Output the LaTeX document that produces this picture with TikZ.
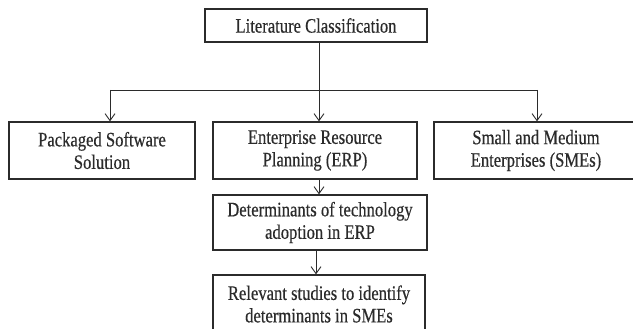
\documentclass[tikz,border=0pt]{standalone}
\usepackage{fontspec}
\setmainfont{Liberation Serif}[FakeStretch=0.81,FakeBold=0.4]
\usetikzlibrary{arrows.meta}
\definecolor{ink}{HTML}{2B2B2B}
\begin{document}
\begin{tikzpicture}[x=1pt,y=1pt,
  box/.style={draw=ink, line width=1.3pt, fill=white, text=ink, align=center,
    inner sep=0pt, font=\fontsize{20.5}{22.5}\selectfont},
  link/.style={draw=ink, line width=0.9pt},
  arr/.style={link, -{Straight Barb[length=7pt,width=10pt,line width=0.9pt]}}]
\useasboundingbox (0,0) rectangle (633,-329);

% boxes
\node[box, minimum width=222pt, minimum height=33pt] (lit) at (316,-25.5) {Literature Classification};
\node[box, minimum width=186pt, minimum height=57pt] (pss) at (102,-150.5) {Packaged Software\\Solution};
\node[box, minimum width=204pt, minimum height=57pt] (erp) at (315,-150.5) {Enterprise Resource\\Planning (ERP)};
\node[box, minimum width=204pt, minimum height=57pt] (sme) at (536,-150.5) {Small and Medium\\Enterprises (SMEs)};
\node[box, minimum width=214pt, minimum height=55pt] (det) at (320,-222.5) {Determinants of technology\\adoption in ERP};
\node[box, minimum width=212pt, minimum height=58pt] (rel) at (319,-304) {Relevant studies to identify\\determinants in SMEs};

% branching connector
\coordinate (jm) at (319,-90);
\coordinate (jl) at (110,-90);
\coordinate (jr) at (537,-90);
\draw[link] (lit.south -| jm) -- (jm);
\draw[link] (jl) -- (jr);
\draw[arr] (jl) -- (jl |- pss.north);
\draw[arr] (jm) -- (jm |- erp.north);
\draw[arr] (jr) -- (jr |- sme.north);

% chain below ERP
\coordinate (ja) at (319,0);
\coordinate (jb) at (316,0);
\draw[arr] (ja |- erp.south) -- (ja |- det.north);
\draw[arr] (jb |- det.south) -- (jb |- rel.north);
\end{tikzpicture}
\end{document}
